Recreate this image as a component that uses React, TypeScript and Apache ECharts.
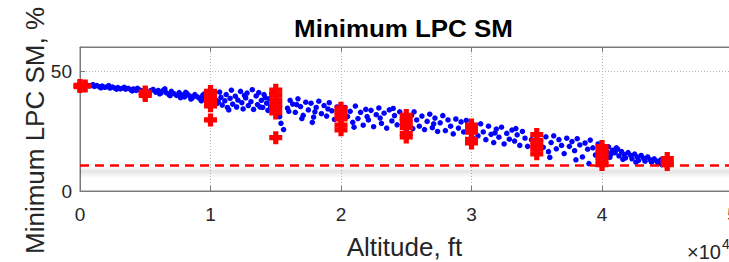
import React, { useEffect, useRef } from "react";
import * as echarts from "echarts";

const FONT = '"Liberation Sans", Arial, Helvetica, sans-serif';

const xTicks = [0, 10000, 20000, 30000, 40000, 50000];
const yTicks = [0, 50];
const limitLine = 10.7;

// Blue scatter: [altitude ft, min LPC SM %]
const bluePoints: number[][] = [
  [500,44.2],[700,43.8],[900,44.0],[1100,43.6],[1300,43.9],[1500,43.4],[1700,43.7],[1900,43.2],[2100,43.5],[2300,42.9],
  [2500,43.3],[2700,42.8],[2900,43.1],[3100,42.6],[3300,42.9],[3500,42.4],[3700,42.8],[3900,42.2],[4100,42.5],[4300,41.9],
  [4500,42.3],[4700,41.8],[1000,44.3],[1600,43.0],[2200,43.9],[2800,42.4],[3400,43.2],[4000,41.7],[4400,42.8],
  [5400,41.8],[5600,42.3],[5800,41.2],[6000,41.9],[6200,40.8],[6400,42.0],[6600,41.0],[6800,40.3],[7000,41.5],[7200,40.6],
  [7400,39.8],[7600,41.0],[7800,40.0],[8000,39.2],[8200,40.6],[8400,39.6],[8600,38.8],[8800,40.2],[9000,39.2],[9200,38.4],
  [9400,39.8],[9600,38.8],[9800,38.0],[5300,40.9],[6100,40.5],[6900,39.7],[7700,38.9],[8500,38.3],[9300,37.6],[9900,39.6],
  [6500,42.6],[8100,41.1],[9500,40.4],
  [10300,40.5],[10400,38.0],[10500,36.5],[10700,41.2],[10800,39.0],[10900,35.8],[11100,37.6],[11200,40.2],[11300,34.8],[11500,38.6],
  [11600,42.0],[11700,36.2],[11900,39.5],[12000,35.0],[12100,37.9],[12300,41.5],[12400,36.8],[12500,34.2],[12700,38.8],[12800,40.8],
  [12900,35.6],[13100,37.2],[13200,42.2],[13300,34.0],[13500,39.6],[13600,36.0],[13700,41.0],[13900,37.8],[14000,34.8],[14100,40.2],
  [14300,36.6],[14400,33.6],[14500,38.4],[14600,35.2],[14700,40.6],[14800,33.0],[10600,37.2],[11400,33.8],[12600,39.8],[13800,35.0],
  [14200,38.9],[15300,31.0],[15400,28.2],[15600,25.6],[15200,33.2],
  [15900,34.5],[16100,37.8],[16300,36.2],[16500,32.8],[16700,38.4],[16900,35.2],[17100,31.5],[17300,37.0],[17500,33.8],[17700,36.6],
  [17900,30.8],[18100,34.8],[18300,37.4],[18500,32.2],[18700,35.6],[18900,31.2],[19100,36.8],[19300,33.4],[19500,29.8],[19700,35.0],
  [16000,33.2],[17000,30.2],[18000,33.0],[19000,34.2],[19800,31.8],[16600,36.0],[17800,28.6],
  [20300,34.8],[20500,31.0],[20700,33.2],[20900,28.6],[21100,35.4],[21300,30.2],[21500,32.8],[21700,27.4],[21900,34.0],[22100,29.6],
  [22300,33.6],[22500,26.8],[22700,31.8],[22900,34.6],[23100,28.2],[23300,32.4],[23500,26.2],[23700,33.8],[23900,29.2],[24100,31.4],
  [24300,27.6],[24500,33.0],[24700,29.8],[20100,32.0],[21000,26.6],[22000,31.0],[23000,30.4],[24000,34.4],[24800,31.2],
  [25400,31.5],[25600,33.0],[25800,29.6],[26000,27.0],[26200,31.2],[26400,25.6],[26600,29.0],[26800,32.0],[27000,26.4],[27200,30.4],
  [27400,24.8],[27600,28.4],[27800,31.4],[28000,25.2],[28200,29.6],[28400,27.0],[28600,23.8],[28800,30.0],[29000,26.2],[29200,28.8],
  [29400,24.6],[29600,29.4],[29800,27.2],[25500,26.0],[27100,28.0],
  [30300,26.4],[30500,23.0],[30700,28.0],[30900,24.6],[31100,21.4],[31300,27.0],[31500,23.6],[31700,20.2],[31900,25.8],[32100,22.4],
  [32300,26.6],[32500,19.6],[32700,24.0],[32900,21.6],[33100,25.4],[33300,20.8],[33500,23.4],[33700,19.0],[33900,24.8],[34100,22.0],
  [34300,18.6],[34600,21.4],[30100,22.0],[31800,24.2],[33400,26.0],
  [35300,21.0],[35500,18.2],[35700,22.6],[35900,16.4],[36100,20.2],[36300,23.0],[36500,17.6],[36700,21.4],[36900,19.0],[37100,15.6],
  [37300,22.0],[37500,18.6],[37700,20.6],[37900,16.8],[38100,21.8],[38300,19.2],[38500,14.2],[38700,20.0],[38900,17.4],[39100,21.2],
  [39300,18.0],[39500,15.0],[39700,19.6],[39900,11.8],[36000,14.0],[38000,13.0],[39000,11.4],
  [40200,17.6],[40400,16.2],[40500,18.4],[40700,15.4],[40800,17.0],[41000,16.0],[41200,17.4],[41300,14.6],[41500,16.4],[41700,15.2],
  [41800,13.8],[42000,16.0],[42200,14.8],[42300,13.4],[42500,15.4],[42700,14.2],[42800,12.8],[43000,14.8],[43200,13.6],[43300,12.4],
  [43500,14.2],[43700,13.0],[43800,12.0],[44000,13.4],[44200,12.4],[44300,11.4],[44500,13.0],[44600,11.0],[40600,14.0],[41600,13.2],
  [42600,12.0],[41100,18.0],
];

// Red plus markers: [altitude ft, min LPC SM %]
const redPoints: number[][] = [
  [0,44],[0,43.5],[400,43.8],
  [5000,41.2],[5000,40.5],[5000,39.8],
  [10000,41.5],[10000,40],[10000,38.5],[10000,37],[10000,35.5],[10000,29.6],
  [15000,42],[15000,40],[15000,38],[15000,36],[15000,34.5],[15000,32.5],[15000,22.2],
  [20000,34.5],[20000,33],[20000,31.5],[20000,30],[20000,27.5],[20000,25.5],
  [25000,31.5],[25000,30],[25000,28.5],[25000,26.5],[25000,24],[25000,22.5],
  [30000,27.5],[30000,26],[30000,24.5],[30000,21.5],[30000,20],
  [35000,23.5],[35000,21],[35000,19],[35000,17.5],[35000,15.5],
  [40000,18.5],[40000,17],[40000,15.5],[40000,14],[40000,12.5],[40000,11],
  [45000,13.5],[45000,12],[45000,11],
];

const PLUS = "path://M3,0H7V3H10V7H7V10H3V7H0V3H3Z";
const AXIS_COLOR = "#7a7a7a";
const TEXT_COLOR = "#262626";

export default function App() {
  const ref = useRef<HTMLDivElement>(null);
  useEffect(() => {
    document.body.style.margin = "0";
    if (!ref.current) return;
    const chart = echarts.init(ref.current, undefined, { renderer: "svg" });
    const xAxisCommon = {
      type: "value",
      min: xTicks[0],
      max: xTicks[xTicks.length - 1],
      interval: xTicks[1] - xTicks[0],
    };
    chart.setOption({
      animation: false,
      grid: {
        left: 80,
        top: 47,
        right: -3.5,
        bottom: 71,
        show: true,
        borderColor: AXIS_COLOR,
        borderWidth: 1,
        outerBoundsMode: "none",
        containLabel: false,
      },
      xAxis: [
        {
          ...xAxisCommon,
          position: "bottom",
          axisLine: { show: true, onZero: false, lineStyle: { color: AXIS_COLOR, width: 1 } },
          axisTick: { show: true, inside: true, length: 5, lineStyle: { color: AXIS_COLOR } },
          axisLabel: {
            formatter: (v: number) => String(v / 10000),
            fontSize: 19,
            fontFamily: FONT,
            color: TEXT_COLOR,
            margin: 14,
          },
          splitLine: { show: true, lineStyle: { type: [1, 2], color: "#b4b4b4", width: 1 } },
        },
        {
          ...xAxisCommon,
          position: "top",
          axisLine: { show: true, onZero: false, lineStyle: { color: AXIS_COLOR, width: 1 } },
          axisTick: { show: true, inside: true, length: 5, lineStyle: { color: AXIS_COLOR } },
          axisLabel: { show: false },
          splitLine: { show: false },
        },
      ],
      yAxis: {
        type: "value",
        min: yTicks[0],
        max: 60,
        interval: yTicks[1] - yTicks[0],
        axisLine: { show: true, onZero: false, lineStyle: { color: AXIS_COLOR, width: 1 } },
        axisTick: { show: true, inside: true, length: 5, lineStyle: { color: AXIS_COLOR } },
        axisLabel: {
          formatter: (v: number) => (yTicks.includes(v) ? String(v) : ""),
          fontSize: 19,
          fontFamily: FONT,
          color: TEXT_COLOR,
          margin: 8,
        },
        splitLine: { show: true, lineStyle: { type: [1, 2], color: "#b4b4b4", width: 1 } },
      },
      series: [
        {
          type: "scatter",
          data: bluePoints,
          symbol: "circle",
          symbolSize: 5.5,
          itemStyle: { color: "#0000ff", opacity: 1 },
          markArea: {
            silent: true,
            label: { show: false },
            itemStyle: {
              color: new echarts.graphic.LinearGradient(0, 0, 0, 1, [
                { offset: 0, color: "rgba(0,0,0,0)" },
                { offset: 0.45, color: "rgba(0,0,0,0.1)" },
                { offset: 1, color: "rgba(0,0,0,0)" },
              ]),
            },
            data: [[{ yAxis: 10.3 }, { yAxis: 5.4 }]],
          },
          markLine: {
            silent: true,
            symbol: ["none", "none"],
            label: { show: false },
            lineStyle: {
              color: "#ff0000",
              width: 2.5,
              type: [9, 6],
            },
            data: [{ yAxis: limitLine }],
          },
        },
        {
          type: "scatter",
          data: redPoints,
          symbol: PLUS,
          symbolSize: 13,
          itemStyle: { color: "#ff0000", opacity: 1 },
          z: 5,
        },
      ],
      graphic: [
        {
          type: "text",
          x: 403.5,
          y: 28.5,
          scaleX: 1.08,
          style: {
            text: "Minimum LPC SM",
            font: "bold 24px " + FONT,
            fill: "#000000",
            textAlign: "center",
            textVerticalAlign: "middle",
          },
        },
        {
          type: "text",
          x: 35,
          y: 130.5,
          rotation: Math.PI / 2,
          style: {
            text: "Minimum LPC SM, %",
            font: "26px " + FONT,
            fill: TEXT_COLOR,
            textAlign: "center",
            textVerticalAlign: "middle",
          },
        },
        {
          type: "text",
          x: 404.5,
          y: 247,
          scaleX: 1.04,
          style: {
            text: "Altitude, ft",
            font: "25px " + FONT,
            fill: TEXT_COLOR,
            textAlign: "center",
            textVerticalAlign: "middle",
          },
        },
        {
          type: "text",
          x: 721,
          y: 252,
          style: {
            text: "\u00d710",
            font: "20px " + FONT,
            fill: TEXT_COLOR,
            textAlign: "right",
            textVerticalAlign: "middle",
          },
        },
        {
          type: "text",
          x: 722,
          y: 244,
          style: {
            text: "4",
            font: "14px " + FONT,
            fill: TEXT_COLOR,
            textAlign: "left",
            textVerticalAlign: "middle",
          },
        },
      ],
    });
    return () => chart.dispose();
  }, []);
  return <div ref={ref} style={{ width: 729, height: 262 }} />;
}
